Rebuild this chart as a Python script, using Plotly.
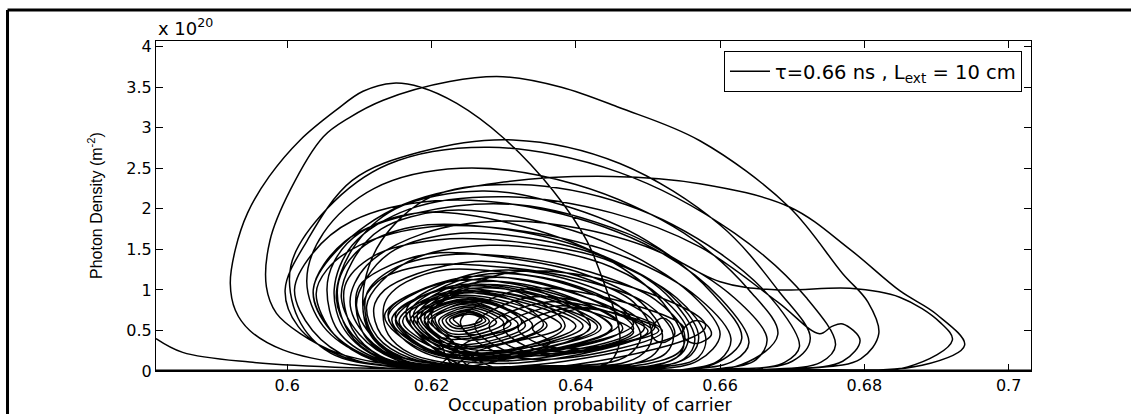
import plotly.graph_objects as go

# Phase trajectory:
# (occupation probability of carrier, photon density in units of 1e20 m^-2)
transient = [(0.5818, 0.40), (0.5855, 0.23), (0.5948, 0.11), (0.6087, 0.04), (0.630, 0.015), (0.655, 0.012)]

big_loops = [
    # loop reaching 3.63
    (0.672, 0.03), (0.6795, 0.15), (0.682, 0.46), (0.6805, 0.85), (0.677, 1.20), (0.6696, 2.02), (0.6572, 2.84),
    (0.646, 3.25), (0.638, 3.50), (0.6299, 3.63), (0.6225, 3.57), (0.6133, 3.34), (0.6085, 3.12), (0.605, 2.89),
    (0.6004, 2.23), (0.5976, 1.61), (0.5971, 1.04), (0.5985, 0.71), (0.6018, 0.46), (0.607, 0.22), (0.616, 0.06),
    (0.630, 0.015),
    # loop reaching 3.55 (leftmost)
    (0.640, 0.02), (0.6448, 0.12), (0.6461, 0.38), (0.6455, 0.70), (0.6443, 0.99), (0.6415, 1.61), (0.6368, 2.23),
    (0.6299, 2.88), (0.6235, 3.30), (0.6185, 3.50), (0.6147, 3.55), (0.6105, 3.45), (0.6068, 3.22), (0.6018, 2.85),
    (0.5975, 2.40), (0.5945, 1.95), (0.5928, 1.50), (0.5921, 1.08), (0.5928, 0.75), (0.5948, 0.50), (0.5994, 0.26),
    (0.6087, 0.08), (0.622, 0.025),
]

spiral_1 = [
    (0.629, 0.12), (0.648, 0.58), (0.637, 1.03), (0.624, 1.15), (0.6135, 0.69), (0.6185, 0.27),
    (0.6285, 0.15), (0.646, 0.58), (0.6355, 0.99), (0.622, 1.10), (0.614, 0.67), (0.619, 0.29),
    (0.628, 0.13), (0.645, 0.54), (0.635, 0.94), (0.623, 1.05), (0.6145, 0.64), (0.619, 0.27),
    (0.6275, 0.17), (0.643, 0.54), (0.633, 0.90), (0.621, 1.00), (0.615, 0.63), (0.619, 0.29),
    (0.627, 0.20), (0.641, 0.55), (0.6325, 0.88), (0.622, 0.97), (0.6155, 0.62), (0.6195, 0.32),
    (0.627, 0.22), (0.640, 0.55), (0.632, 0.86), (0.622, 0.95), (0.616, 0.62), (0.6195, 0.33),
]

mid_loops_1 = [
    (0.625, 0.05), (0.650, 0.015), (0.663, 0.08), (0.668, 0.45), (0.664, 1.0), (0.655, 1.7), (0.640, 2.30),
    (0.624, 2.50), (0.612, 2.25), (0.605, 1.70), (0.6027, 1.10), (0.605, 0.55), (0.611, 0.18), (0.620, 0.04),
    (0.640, 0.015), (0.670, 0.015), (0.688, 0.07), (0.6939, 0.32), (0.690, 0.70), (0.6849, 0.99), (0.678, 1.50),
    (0.6697, 2.02), (0.6572, 2.31), (0.645, 2.40), (0.630, 2.33), (0.616, 2.05), (0.607, 1.50), (0.6036, 1.00),
    (0.606, 0.50), (0.612, 0.15), (0.622, 0.04),
]

spiral_2 = [
    (0.6265, 0.25), (0.638, 0.55), (0.631, 0.84), (0.623, 0.92), (0.617, 0.62), (0.620, 0.35),
    (0.626, 0.28), (0.636, 0.56), (0.630, 0.83), (0.623, 0.90), (0.6175, 0.62), (0.6203, 0.37),
    (0.6255, 0.30), (0.634, 0.56), (0.6295, 0.80), (0.624, 0.87), (0.618, 0.61), (0.6205, 0.39),
    (0.6255, 0.33), (0.633, 0.56), (0.6295, 0.79), (0.624, 0.85), (0.619, 0.62), (0.621, 0.41),
]

mid_loops_2 = [
    (0.623, 0.08), (0.648, 0.015), (0.659, 0.08), (0.663, 0.40), (0.659, 0.95), (0.650, 1.60), (0.638, 2.05),
    (0.627, 2.22), (0.615, 2.00), (0.609, 1.50), (0.6068, 0.90), (0.609, 0.45), (0.614, 0.14), (0.622, 0.04),
    (0.640, 0.015), (0.660, 0.02), (0.670, 0.12), (0.6725, 0.40), (0.668, 1.00), (0.660, 1.80), (0.6461, 2.56),
    (0.6313, 2.85), (0.6184, 2.70), (0.609, 2.35), (0.6027, 1.60), (0.5997, 1.00), (0.6015, 0.55), (0.607, 0.20),
    (0.616, 0.05),
]

right_loops = [
    (0.6385, 0.12), (0.655, 0.52), (0.644, 0.91), (0.632, 1.00), (0.624, 0.61), (0.6285, 0.25),
    (0.6375, 0.15), (0.652, 0.49), (0.643, 0.81), (0.633, 0.90), (0.626, 0.56), (0.630, 0.26),
    (0.638, 0.20), (0.650, 0.49), (0.643, 0.77), (0.636, 0.85), (0.628, 0.56), (0.631, 0.30),
    (0.638, 0.22), (0.648, 0.48), (0.642, 0.73), (0.637, 0.80), (0.630, 0.54), (0.633, 0.31),
    (0.640, 0.25), (0.6505, 0.50), (0.645, 0.72), (0.639, 0.78), (0.632, 0.53), (0.635, 0.33),
    (0.641, 0.28), (0.6515, 0.50), (0.646, 0.70), (0.640, 0.76), (0.634, 0.52), (0.6365, 0.35),
]

flat_top_loop = [
    (0.625, 0.08), (0.660, 0.012), (0.686, 0.05), (0.6922, 0.38), (0.6905, 0.60), (0.6849, 0.91), (0.678, 1.02),
    (0.668, 1.00), (0.660, 1.10), (0.647, 1.70), (0.632, 2.05), (0.618, 1.95), (0.608, 1.60), (0.6036, 1.00),
    (0.606, 0.50), (0.612, 0.15), (0.620, 0.04),
]

spiral_3 = [
    (0.625, 0.36), (0.632, 0.57), (0.6285, 0.76), (0.624, 0.82), (0.6195, 0.61), (0.621, 0.43),
    (0.625, 0.40), (0.631, 0.58), (0.628, 0.75), (0.6245, 0.80), (0.620, 0.62), (0.6215, 0.46),
    (0.625, 0.43), (0.630, 0.59), (0.6275, 0.74), (0.6245, 0.78), (0.621, 0.62), (0.6222, 0.48),
    (0.625, 0.46), (0.629, 0.60), (0.627, 0.72), (0.625, 0.76), (0.6215, 0.63), (0.6225, 0.51),
    (0.625, 0.50), (0.628, 0.61), (0.6265, 0.71), (0.625, 0.74), (0.622, 0.63), (0.6229, 0.54),
    (0.625, 0.53), (0.6275, 0.62), (0.6263, 0.70), (0.625, 0.72), (0.6225, 0.63), (0.6233, 0.56),
    (0.625, 0.56), (0.627, 0.63), (0.626, 0.69), (0.625, 0.70), (0.623, 0.64), (0.6237, 0.58),
    (0.6255, 0.45), (0.6305, 0.62), (0.628, 0.79), (0.6245, 0.84), (0.6205, 0.66), (0.6215, 0.50),
    (0.6255, 0.38), (0.6325, 0.60), (0.629, 0.83), (0.6235, 0.88), (0.6185, 0.66), (0.6205, 0.45),
    (0.6265, 0.30), (0.6355, 0.57), (0.631, 0.88), (0.6235, 0.95), (0.6165, 0.68), (0.6195, 0.38),
    (0.6275, 0.22), (0.6385, 0.55), (0.633, 0.94), (0.6230, 1.03), (0.6150, 0.70), (0.6185, 0.32),
    (0.6285, 0.15), (0.6420, 0.55), (0.6345, 1.00), (0.6225, 1.10), (0.6140, 0.72), (0.6180, 0.27),
]

spiral_4 = [
    (0.632, 0.10), (0.651, 0.55), (0.640, 1.10), (0.627, 1.22), (0.6165, 0.75), (0.621, 0.25),
    (0.6315, 0.13), (0.6495, 0.53), (0.639, 1.06), (0.6265, 1.18), (0.617, 0.72), (0.6215, 0.27),
    (0.631, 0.16), (0.648, 0.52), (0.638, 1.02), (0.626, 1.13), (0.6175, 0.70), (0.622, 0.29),
    (0.6305, 0.18), (0.6465, 0.52), (0.637, 0.98), (0.6255, 1.08), (0.618, 0.68), (0.6222, 0.30),
    (0.630, 0.20), (0.645, 0.52), (0.636, 0.95), (0.625, 1.04), (0.6185, 0.67), (0.6225, 0.32),
    (0.6295, 0.22), (0.6435, 0.53), (0.635, 0.92), (0.6245, 1.00), (0.619, 0.66), (0.6228, 0.34),
    (0.629, 0.25), (0.642, 0.53), (0.634, 0.89), (0.624, 0.96), (0.6195, 0.65), (0.623, 0.36),
]

mid_loops_3 = [
    (0.625, 0.07), (0.650, 0.02), (0.657, 0.13), (0.660, 0.45), (0.656, 0.95), (0.645, 1.55), (0.633, 1.88),
    (0.622, 1.98), (0.613, 1.75), (0.609, 1.35), (0.6075, 0.90), (0.610, 0.45), (0.615, 0.14), (0.622, 0.04),
    # hook
    (0.640, 0.015), (0.668, 0.02), (0.677, 0.12), (0.6794, 0.38), (0.677, 0.58), (0.6755, 0.55), (0.6738, 0.46),
    (0.668, 0.85), (0.6572, 1.53), (0.645, 1.95), (0.630, 2.15), (0.617, 2.00), (0.609, 1.55), (0.6065, 1.00),
    (0.608, 0.50), (0.613, 0.15), (0.621, 0.04),
    (0.640, 0.015), (0.660, 0.03), (0.665, 0.14), (0.6665, 0.40), (0.662, 0.90), (0.652, 1.45), (0.641, 1.75),
    (0.630, 1.85), (0.619, 1.70), (0.611, 1.30), (0.6087, 0.85), (0.611, 0.42), (0.616, 0.13), (0.623, 0.04),
    (0.640, 0.03), (0.652, 0.06), (0.656, 0.20), (0.657, 0.45), (0.653, 0.95), (0.644, 1.40), (0.634, 1.63),
    (0.624, 1.70), (0.615, 1.50), (0.611, 1.15), (0.6096, 0.80), (0.612, 0.40), (0.616, 0.14), (0.623, 0.05),
    (0.640, 0.04), (0.652, 0.09), (0.655, 0.25), (0.6555, 0.50), (0.652, 0.90), (0.645, 1.28), (0.637, 1.48),
    (0.628, 1.55), (0.618, 1.40), (0.613, 1.10), (0.611, 0.80), (0.6125, 0.42), (0.617, 0.16), (0.624, 0.06),
    (0.640, 0.015), (0.663, 0.02), (0.669, 0.11), (0.671, 0.30), (0.668, 0.80), (0.660, 1.45), (0.647, 2.05),
    (0.632, 2.30), (0.620, 2.15), (0.613, 1.60), (0.6105, 0.95), (0.6115, 0.45), (0.616, 0.14), (0.623, 0.04),
    (0.635, 0.04), (0.648, 0.09), (0.651, 0.22), (0.652, 0.45), (0.649, 0.85), (0.641, 1.20), (0.630, 1.40),
    (0.620, 1.45), (0.613, 1.25), (0.6100, 1.05), (0.6095, 0.80), (0.611, 0.40), (0.615, 0.16), (0.622, 0.06),
    (0.635, 0.05), (0.647, 0.11), (0.650, 0.28), (0.6505, 0.50), (0.648, 0.85), (0.641, 1.15), (0.633, 1.30),
    (0.626, 1.35), (0.618, 1.20), (0.6135, 1.00), (0.612, 0.78), (0.613, 0.45), (0.617, 0.19), (0.623, 0.07),
    (0.635, 0.03), (0.650, 0.06), (0.654, 0.17), (0.655, 0.35), (0.652, 0.85), (0.644, 1.40), (0.631, 1.82),
    (0.618, 1.95), (0.610, 1.70), (0.6065, 1.35), (0.6055, 1.00), (0.607, 0.50), (0.612, 0.17), (0.620, 0.05),
    (0.633, 0.06), (0.645, 0.11), (0.648, 0.25), (0.649, 0.45), (0.646, 0.80), (0.639, 1.08), (0.630, 1.22),
    (0.622, 1.25), (0.6165, 1.10), (0.614, 0.92), (0.6133, 0.75), (0.614, 0.45), (0.617, 0.22), (0.623, 0.09),
    (0.640, 0.08), (0.658, 0.55), (0.646, 1.08), (0.630, 1.20), (0.620, 0.70), (0.625, 0.22),
    (0.630, 0.015), (0.655, 0.02), (0.660, 0.14), (0.6615, 0.40), (0.657, 0.90), (0.647, 1.40), (0.633, 1.72),
    (0.620, 1.78), (0.610, 1.55), (0.6055, 1.25), (0.6040, 0.95), (0.6065, 0.45), (0.612, 0.13), (0.620, 0.04),
    (0.630, 0.015), (0.656, 0.02), (0.662, 0.13), (0.664, 0.35), (0.660, 0.90), (0.651, 1.50), (0.636, 1.98),
    (0.6205, 2.10), (0.609, 1.85), (0.6035, 1.45), (0.6010, 1.00), (0.6035, 0.50), (0.609, 0.15), (0.618, 0.04),
    (0.630, 0.012), (0.665, 0.015), (0.674, 0.11), (0.676, 0.32), (0.672, 0.90), (0.662, 1.70), (0.646, 2.45),
    (0.628, 2.76), (0.614, 2.55), (0.6055, 2.00), (0.6005, 1.30), (0.6015, 0.65), (0.606, 0.22), (0.615, 0.05),
    (0.630, 0.04), (0.648, 0.09), (0.6525, 0.22), (0.6535, 0.45), (0.650, 0.82), (0.641, 1.12), (0.630, 1.28),
    (0.619, 1.30), (0.6125, 1.10), (0.6105, 0.80), (0.612, 0.42), (0.616, 0.17), (0.623, 0.07),
    (0.632, 0.05), (0.650, 0.09), (0.6545, 0.25), (0.655, 0.48), (0.651, 0.88), (0.642, 1.22), (0.632, 1.40),
    (0.622, 1.43), (0.6145, 1.25), (0.611, 0.95), (0.6115, 0.50), (0.615, 0.20), (0.622, 0.07),
    (0.632, 0.03), (0.652, 0.05), (0.657, 0.17), (0.658, 0.42), (0.654, 0.90), (0.644, 1.38), (0.633, 1.58),
    (0.621, 1.62), (0.612, 1.42), (0.608, 1.05), (0.609, 0.52), (0.613, 0.18), (0.621, 0.05),
    (0.630, 0.03), (0.650, 0.05), (0.655, 0.15), (0.6565, 0.40), (0.6525, 0.95), (0.643, 1.45), (0.630, 1.75),
    (0.6175, 1.78), (0.610, 1.50), (0.607, 1.05), (0.6085, 0.48), (0.613, 0.16), (0.621, 0.05),
]

eye_1 = [(0.652, 0.35), (0.6537, 0.45), (0.653, 0.61), (0.6518, 0.65), (0.6505, 0.52), (0.6508, 0.40), (0.652, 0.35)]
eye_2 = [(0.6568, 0.34), (0.6588, 0.45), (0.658, 0.58), (0.6565, 0.62), (0.6548, 0.50), (0.6552, 0.39), (0.6568, 0.34)]

x_ticks = [0.6, 0.62, 0.64, 0.66, 0.68, 0.7]
x_tick_labels = ["0.6", "0.62", "0.64", "0.66", "0.68", "0.7"]
y_ticks = [0, 0.5, 1, 1.5, 2, 2.5, 3, 3.5, 4]
y_tick_labels = ["0", "0.5", "1", "1.5", "2", "2.5", "3", "3.5", "4"]

trajectory = (transient + big_loops + spiral_1 + mid_loops_1 + spiral_2 + mid_loops_2 +
              right_loops + flat_top_loop + spiral_3 + spiral_4 + mid_loops_3)

carrier, photon = [], []
for seg in (trajectory, eye_1, eye_2):
    if carrier:
        carrier.append(None)
        photon.append(None)
    carrier += [p[0] for p in seg]
    photon += [p[1] for p in seg]

FONT = "DejaVu Sans"

fig = go.Figure()
fig.add_trace(go.Scatter(
    x=carrier, y=photon, mode="lines",
    line=dict(color="black", width=1.5, shape="spline", smoothing=1.0),
    connectgaps=False,
    name="τ=0.66 ns , L<sub>ext</sub> = 10 cm",
    showlegend=True,
))

axis_common = dict(
    showgrid=False, zeroline=False, showline=True, linecolor="black", linewidth=1.2,
    mirror="ticks", ticks="inside", ticklen=7, tickcolor="black", tickwidth=1,
    tickfont=dict(family=FONT, size=16, color="black"),
)

fig.update_layout(
    width=1131, height=414, autosize=False,
    margin=dict(l=156, r=100, t=41, b=43),
    paper_bgcolor="white", plot_bgcolor="white",
    xaxis=dict(range=[0.5818, 0.7031], tickvals=x_ticks, ticktext=x_tick_labels, **axis_common),
    yaxis=dict(range=[0, 4.07], tickvals=y_ticks, ticktext=y_tick_labels, **axis_common),
    legend=dict(
        x=0.9897, xanchor="right", y=0.9697, yanchor="top",
        bgcolor="white", bordercolor="black", borderwidth=1,
        font=dict(family=FONT, size=19.5, color="black"),
        itemwidth=40,
    ),
    annotations=[
        dict(text="x 10<sup>20</sup>", x=0, y=1, xref="paper", yref="paper",
             xanchor="left", yanchor="bottom", yshift=0, showarrow=False,
             font=dict(family=FONT, size=18, color="black")),
        dict(text="Occupation probability of carrier", x=0.496, y=0, xref="paper", yref="paper",
             xanchor="center", yanchor="bottom", yshift=-46, showarrow=False,
             font=dict(family=FONT, size=17.5, color="black")),
        dict(text="Photon Density (m<sup>-2</sup>)", x=-0.0697, y=0.5, xref="paper", yref="paper",
             xanchor="center", yanchor="middle", textangle=-90, showarrow=False,
             font=dict(family="Liberation Sans", size=16, color="black")),
    ],
    shapes=[
        dict(type="line", xref="paper", yref="y", x0=0, x1=1, y0=0, y1=0,
             line=dict(color="black", width=3)),
        dict(type="line", xref="paper", yref="paper", x0=-0.1697, x1=1.2, y0=1.0939, y1=1.0939,
             line=dict(color="black", width=3)),
        dict(type="line", xref="paper", yref="paper", x0=-0.1697, x1=-0.1697, y0=1.0939, y1=-0.2,
             line=dict(color="black", width=3)),
    ],
)

fig.write_html("out.html")
